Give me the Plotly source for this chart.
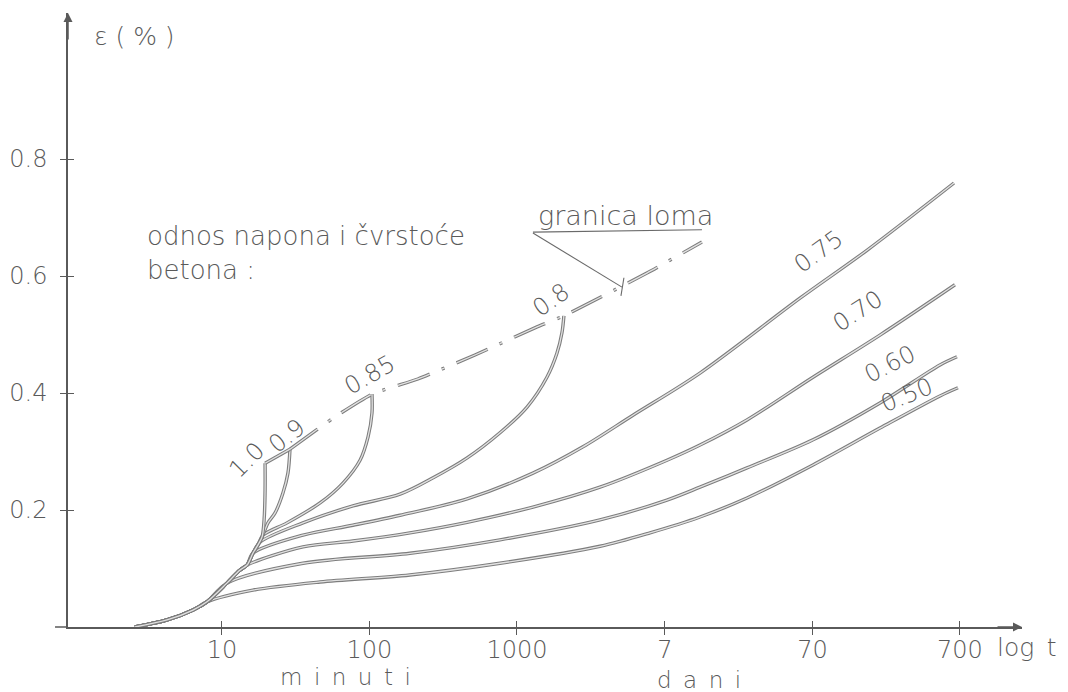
import numpy as np
import plotly.graph_objects as go

# ---- creep curves: time t (minutes, log scale) vs strain epsilon (%) ----
t_050 = [2.57, 4.24, 6.36, 7.91, 16.2, 46.2, 188, 767, 3652, 7980, 17400, 36260, 101600, 289000, 738000, 977000]
e_050 = [0, 0.012, 0.029, 0.043, 0.063, 0.077, 0.089, 0.109, 0.138, 0.161, 0.188, 0.2205, 0.277, 0.340, 0.395, 0.409]

t_060 = [2.57, 4.24, 6.36, 7.91, 10.8, 35.4, 188, 767, 3652, 10390, 17400, 36260, 101600, 289000, 738000, 962000]
e_060 = [0, 0.012, 0.029, 0.043, 0.075, 0.109, 0.126, 0.149, 0.183, 0.217, 0.239, 0.272, 0.320, 0.383, 0.448, 0.462]

t_070 = [2.57, 4.24, 6.36, 7.91, 10.8, 13.2, 14.8, 35.4, 77.3, 188, 459, 1283, 3652, 10390, 17400, 36260,
         101600, 289000, 932000]
e_070 = [0, 0.012, 0.029, 0.043, 0.075, 0.097, 0.106, 0.137, 0.147, 0.161, 0.179, 0.205, 0.239, 0.285, 0.311,
         0.354, 0.427, 0.499, 0.585]

t_075 = [2.57, 4.24, 6.36, 7.91, 10.8, 13.2, 14.8, 16.2, 35.4, 77.3, 161, 459, 1283, 2800, 6115, 17400,
         82900, 236000, 918000]
e_075 = [0, 0.012, 0.029, 0.043, 0.075, 0.097, 0.106, 0.126, 0.157, 0.174, 0.191, 0.219, 0.263, 0.308,
         0.362, 0.434, 0.562, 0.644, 0.759]

t_080 = [2.57, 4.24, 6.36, 7.91, 10.8, 13.2, 14.8, 16.2, 18.1, 35.4, 77.3, 161, 270, 459, 767, 1170,
         1596, 1866, 2018, 2080]
e_080 = [0, 0.012, 0.029, 0.043, 0.075, 0.097, 0.106, 0.126, 0.145, 0.178, 0.207, 0.227, 0.255, 0.289,
         0.332, 0.376, 0.427, 0.468, 0.503, 0.532]

t_085 = [2.57, 4.24, 6.36, 7.91, 10.8, 13.2, 14.8, 16.2, 17.5, 19.0, 27.6, 46.2, 66.1, 86.3, 97.8, 104, 104]
e_085 = [0, 0.012, 0.029, 0.043, 0.075, 0.097, 0.106, 0.126, 0.140, 0.157, 0.178, 0.212, 0.246, 0.285,
         0.325, 0.366, 0.398]

t_090 = [2.57, 4.24, 6.36, 7.91, 10.8, 13.2, 14.8, 16.2, 17.5, 18.7, 20.5, 22.9, 25.9, 28.0, 28.9]
e_090 = [0, 0.012, 0.029, 0.043, 0.075, 0.097, 0.106, 0.126, 0.140, 0.154, 0.178, 0.195, 0.229, 0.263, 0.304]

t_100 = [2.57, 4.24, 6.36, 7.91, 10.8, 13.2, 14.8, 16.2, 17.5, 18.7, 19.3, 19.6, 19.6]
e_100 = [0, 0.012, 0.029, 0.043, 0.075, 0.097, 0.106, 0.126, 0.140, 0.154, 0.183, 0.234, 0.280]

# solid piece of the failure boundary between the 1.0 and 0.9 tips
t_edge = [19.6, 28.9]
e_edge = [0.280, 0.304]

# failure boundary ("granica loma"), dash-dot
t_fail = [28.9, 56.6, 104, 213, 519, 1368, 2080, 7600, 17950]
e_fail = [0.304, 0.357, 0.398, 0.424, 0.465, 0.513, 0.532, 0.605, 0.658]

# pointer from the "granica loma" caption to the boundary
t_lead = [1283, 5150]
e_lead = [0.6735, 0.581]
t_uline = [1283, 17950]
e_uline = [0.675, 0.679]
t_mark = [5070, 5310]
e_mark = [0.566, 0.597]

# axes
x_tickvals = [10, 100, 1000, 10080, 100800, 1008000]
x_ticktext = ["10", "100", "1000", "7", "70", "700"]
y_tickvals = [0.2, 0.4, 0.6, 0.8]
y_ticktext = ["0.2", "0.4", "0.6", "0.8"]

curves = [
    ("0.50", t_050, e_050), ("0.60", t_060, e_060), ("0.70", t_070, e_070),
    ("0.75", t_075, e_075), ("0.80", t_080, e_080), ("0.85", t_085, e_085),
    ("0.9", t_090, e_090), ("1.0", t_100, e_100),
]

INK = "#7d7d7d"
CORE = "#e2e2e2"
TXT = "#5a5a5a"
AX = "#5a5a5a"
FONT = "DejaVu Sans, sans-serif"

fig = go.Figure()


def outlined(t, e, dash=None, shape="spline", smoothing=0.9):
    """Draw a line as a thin hollow stroke (dark rim, light core)."""
    for color, width in ((INK, 3.4), (CORE, 1.3)):
        fig.add_trace(go.Scatter(
            x=t, y=e, mode="lines", hoverinfo="skip", showlegend=False,
            line=dict(color=color, width=width, dash=dash, shape=shape,
                      smoothing=smoothing if shape == "spline" else None),
        ))


for name, t, e in curves:
    outlined(t, e)
outlined(t_edge, e_edge, shape="linear")
outlined(t_fail, e_fail, dash="34px,13px,3px,13px", smoothing=0.5)

for t, e in ((t_lead, e_lead), (t_uline, e_uline), (t_mark, e_mark)):
    fig.add_trace(go.Scatter(x=t, y=e, mode="lines", hoverinfo="skip", showlegend=False,
                             line=dict(color="#6a6a6a", width=1.1)))

# helper trace for the secondary (inward tick) axes
fig.add_trace(go.Scatter(x=[10], y=[0], xaxis="x2", yaxis="y2", mode="markers",
                         marker=dict(size=1, opacity=0), hoverinfo="skip", showlegend=False))

XR = [-0.044, 6.424]
YR = [0, 1.0496]
tick_font = dict(family=FONT, size=24, color=TXT, weight=200)

fig.update_layout(
    width=1068, height=692,
    margin=dict(l=68, r=46, t=13, b=65, autoexpand=False),
    paper_bgcolor="white", plot_bgcolor="white",
    showlegend=False,
    xaxis=dict(type="log", range=XR, showgrid=False, zeroline=False, automargin=False,
               showline=True, linecolor=AX, linewidth=1.5,
               ticks="outside", ticklen=6, tickwidth=1.2, tickcolor=AX,
               tickvals=x_tickvals, ticktext=x_ticktext, tickfont=tick_font,
               ticklabelstandoff=-6),
    xaxis2=dict(type="log", range=XR, overlaying="x", anchor="y2", side="bottom", automargin=False,
                showgrid=False, zeroline=False, showline=False,
                ticks="inside", ticklen=6, tickwidth=1.2, tickcolor=AX,
                tickvals=x_tickvals, showticklabels=False),
    yaxis=dict(range=YR, showgrid=False, zeroline=False, automargin=False,
               showline=True, linecolor=AX, linewidth=1.5,
               ticks="outside", ticklen=6, tickwidth=1.2, tickcolor=AX,
               tickvals=y_tickvals, ticktext=y_ticktext, tickfont=tick_font,
               ticklabelstandoff=8),
    yaxis2=dict(range=YR, overlaying="y", anchor="x2", side="left", automargin=False,
                showgrid=False, zeroline=False, showline=False,
                ticks="inside", ticklen=6, tickwidth=1.2, tickcolor=AX,
                tickvals=y_tickvals, showticklabels=False),
)

# x axis runs a little past the origin on the left
fig.add_shape(type="line", xref="paper", yref="paper", x0=-0.0136, x1=0, y0=0, y1=0,
              line=dict(color=AX, width=1.5))

# arrow heads of both axes
fig.add_annotation(xref="paper", yref="paper", x=0, y=1, ax=0, ay=28, text="",
                   showarrow=True, arrowhead=2, arrowsize=1.2, arrowwidth=1.5, arrowcolor=AX)
fig.add_annotation(xref="paper", yref="paper", x=1, y=0, ax=-26, ay=0, text="",
                   showarrow=True, arrowhead=2, arrowsize=1.2, arrowwidth=1.5, arrowcolor=AX)

word_font = dict(family=FONT, size=26, color=TXT, weight=200)
small_font = dict(family=FONT, size=23, color=TXT, weight=200)


def paper_text(text, x, y, xanchor="center", yanchor="middle", font=word_font, align="left"):
    fig.add_annotation(xref="paper", yref="paper", x=x, y=y, text=text, showarrow=False,
                       xanchor=xanchor, yanchor=yanchor, font=font, align=align)


paper_text("ε ( % )", 0.025, 0.961, xanchor="left", font=dict(family=FONT, size=25, color=TXT, weight=200))
paper_text("m\u2002i\u2002n\u2002u\u2002t\u2002i", 0.2914, -0.1055, yanchor="bottom", font=small_font)
paper_text("d\u2002a\u2002n\u2002i", 0.6614, -0.0863, font=small_font)
paper_text("log\u2002t", 0.972, -0.0342, xanchor="left", font=dict(family=FONT, size=25, color=TXT, weight=200))
paper_text("odnos napona i čvrstoće<br>betona :", 0.0807, 0.609, xanchor="left")

# caption of the failure boundary
fig.add_annotation(x=np.log10(5480), y=0.704, text="granica loma", showarrow=False,
                   font=dict(family=FONT, size=27, color=TXT, weight=200))

# stress/strength ratio labels along the curves
curve_labels = [
    ("1.0", 14.8, 0.285, -45),
    ("0.9", 27.6, 0.326, -38),
    ("0.85", 100, 0.431, -30),
    ("0.8", 1700, 0.559, -35),
    ("0.75", 110000, 0.641, -36),
    ("0.70", 205000, 0.540, -33),
    ("0.60", 338000, 0.450, -27),
    ("0.50", 440000, 0.397, -22),
]
for text, t, e, ang in curve_labels:
    fig.add_annotation(x=np.log10(t), y=e, text=text, showarrow=False, textangle=ang,
                       font=dict(family=FONT, size=24, color=TXT, weight=200))

fig.write_html("out.html")
